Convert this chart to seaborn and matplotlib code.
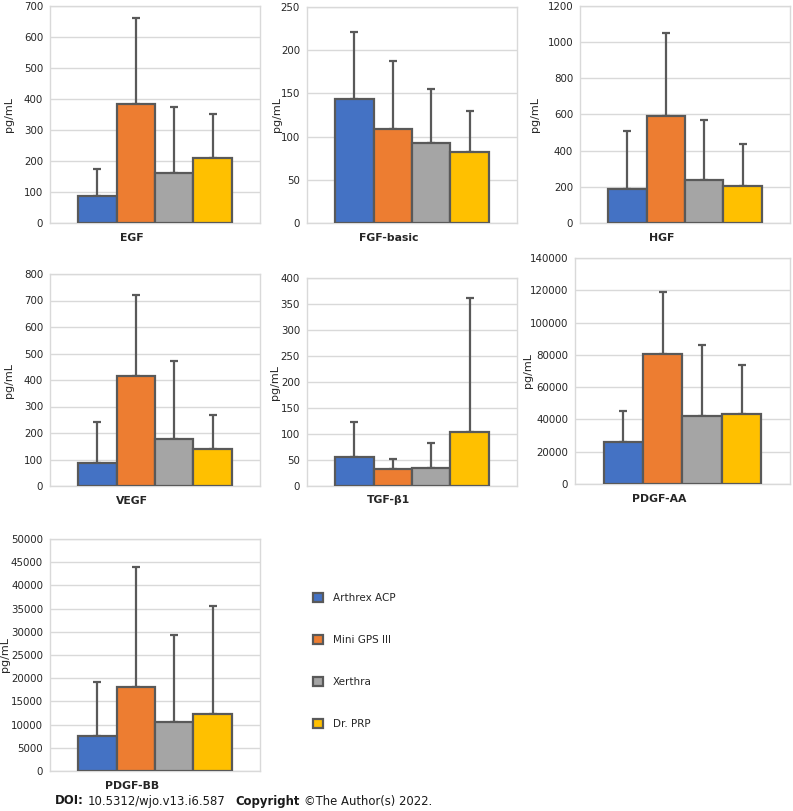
import numpy as np
import pandas as pd
import matplotlib
matplotlib.use('Agg')
import matplotlib.pyplot as plt
import seaborn as sns
from matplotlib.patches import Patch

# devices and colours
devices = ['Arthrex ACP', 'Mini GPS III', 'Xerthra', 'Dr. PRP']
colors = ['#4472C4', '#ED7D31', '#A5A5A5', '#FFC000']

# growth factor means and upper error (mean + SD)
egf_mean = [88, 385, 160, 210]
egf_top = [175, 660, 375, 353]
fgf_mean = [144, 109, 93, 82]
fgf_top = [221, 188, 155, 130]
hgf_mean = [190, 590, 240, 205]
hgf_top = [510, 1050, 572, 435]
vegf_mean = [88, 415, 178, 138]
vegf_top = [240, 722, 473, 268]
tgf_mean = [55, 33, 34, 103]
tgf_top = [124, 52, 82, 362]
pdgfaa_mean = [26300, 80700, 42000, 43300]
pdgfaa_top = [45500, 119000, 85800, 74000]
pdgfbb_mean = [7500, 18000, 10500, 12300]
pdgfbb_top = [19200, 44000, 29300, 35600]

panels = [
    ('EGF', egf_mean, egf_top, 700, 100),
    ('FGF-basic', fgf_mean, fgf_top, 250, 50),
    ('HGF', hgf_mean, hgf_top, 1200, 200),
    ('VEGF', vegf_mean, vegf_top, 800, 100),
    ('TGF-β1', tgf_mean, tgf_top, 400, 50),
    ('PDGF-AA', pdgfaa_mean, pdgfaa_top, 140000, 20000),
    ('PDGF-BB', pdgfbb_mean, pdgfbb_top, 50000, 5000),
]

# axes boxes in pixels: left, top, right, bottom, and x of the y label
W, H = 793, 811
boxes = [
    (50, 6, 260, 223, 14), (307, 7, 517, 223, 282), (580, 6, 790, 223, 540),
    (50, 274, 260, 486, 14), (307, 278, 517, 486, 280), (575, 258, 790, 484, 533),
    (50, 539, 260, 771, 10),
]

sns.set_style('white')
plt.rcParams['font.family'] = ['DejaVu Sans']
txt = '#262626'

fig = plt.figure(figsize=(W / 100, H / 100), dpi=100)

for (name, mean, top, ymax, step), (l, t, r, b, lx) in zip(panels, boxes):
    ax = fig.add_axes([l / W, (H - b) / H, (r - l) / W, (b - t) / H])
    df = pd.DataFrame({'device': devices, 'value': mean})
    sns.barplot(data=df, x='device', y='value', hue='device', palette=colors,
                saturation=1, width=1.0, edgecolor='#595959', linewidth=1.6,
                legend=False, errorbar=None, ax=ax, zorder=3)
    sd = np.array(top) - np.array(mean)
    ax.errorbar(np.arange(4), mean, yerr=[np.zeros(4), sd], fmt='none',
                ecolor='#595959', elinewidth=1.6, capsize=3, capthick=1.6, zorder=2)
    ax.set_xlim(-1.23, 4.23)
    ax.set_ylim(0, ymax)
    ax.set_yticks(np.arange(0, ymax + step, step))
    ax.yaxis.grid(True, color='#d9d9d9', linewidth=1)
    ax.set_axisbelow(True)
    for s in ax.spines.values():
        s.set_color('#d9d9d9')
        s.set_linewidth(1)
    ax.set_xticks([])
    ax.set_xlabel('')
    ax.tick_params(axis='y', length=0, labelsize=7.4, colors=txt, pad=5)
    ax.set_ylabel('pg/mL', fontsize=8, color=txt)
    ax.yaxis.set_label_coords((lx - l) / (r - l), 0.5)
    ax.text(0.9, -0.045, name, transform=ax.get_xaxis_transform(), ha='center',
            va='top', fontsize=7.8, fontweight='bold', color=txt)

handles = [Patch(facecolor=c, edgecolor='#595959', linewidth=1.6) for c in colors]
fig.legend(handles, devices, loc='upper left', bbox_to_anchor=(304 / W, (H - 584) / H),
           frameon=False, fontsize=7.5, labelspacing=3.05, handlelength=0.95,
           handleheight=0.95, handletextpad=0.9, labelcolor=txt)

# footer, pieces placed one after another
fy = (H - 801) / H
parts = [('DOI:', 'bold', 4), ('10.5312/wjo.v13.i6.587', 'normal', 10),
         ('Copyright', 'bold', 4), ('©The Author(s) 2022.', 'normal', 0)]
fig.canvas.draw()
rend = fig.canvas.get_renderer()
x = 55
for s, w, gap in parts:
    t = fig.text(x / W, fy, s, fontsize=8.4, fontweight=w, va='center', color='#1a1a1a')
    x += t.get_window_extent(rend).width + gap

plt.savefig('out.png', dpi=100)
plt.close()
